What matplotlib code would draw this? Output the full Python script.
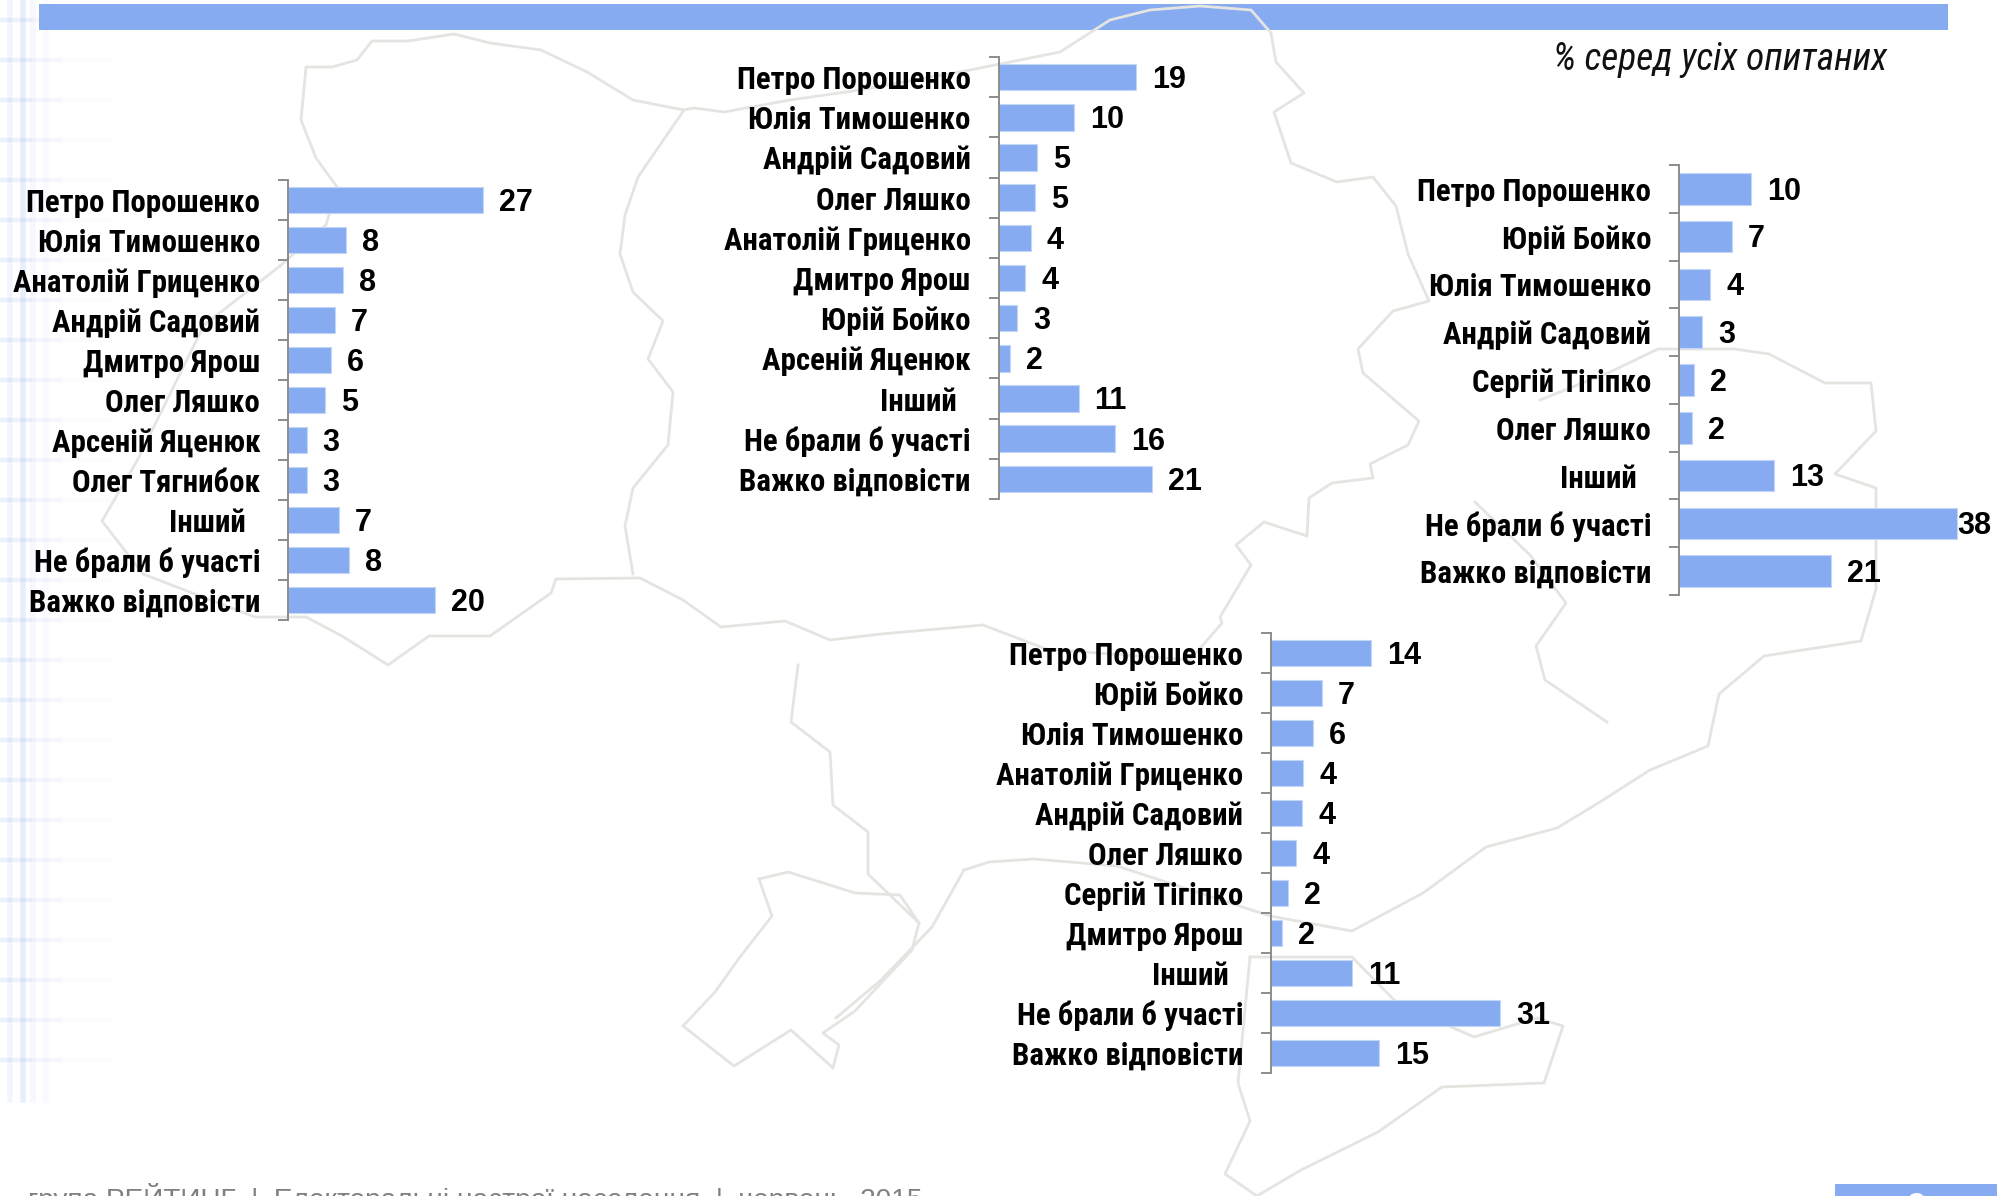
import matplotlib
matplotlib.use("Agg")
import matplotlib.pyplot as plt
import numpy as np

NARROW = ['Roboto Condensed', 'Liberation Sans', 'DejaVu Sans']
plt.rcParams['font.family'] = ['Liberation Sans', 'DejaVu Sans']

W, H = 1997, 1196
BLUE = '#86abf1'
PX_PER_UNIT = 7.22

# west
names1 = ['Петро Порошенко', 'Юлія Тимошенко', 'Анатолій Гриценко', 'Андрій Садовий',
          'Дмитро Ярош', 'Олег Ляшко', 'Арсеній Яценюк', 'Олег Тягнибок',
          'Інший  ', 'Не брали б участі', 'Важко відповісти']
bars1 = [27, 8.1, 7.6, 6.5, 5.9, 5.1, 2.6, 2.6, 7.0, 8.4, 20.4]
vals1 = [27, 8, 8, 7, 6, 5, 3, 3, 7, 8, 20]

# centre
names2 = ['Петро Порошенко', 'Юлія Тимошенко', 'Андрій Садовий', 'Олег Ляшко',
          'Анатолій Гриценко', 'Дмитро Ярош', 'Юрій Бойко', 'Арсеній Яценюк',
          'Інший  ', 'Не брали б участі', 'Важко відповісти']
bars2 = [19, 10.5, 5.4, 5.1, 4.5, 3.7, 2.6, 1.6, 11.1, 16.2, 21.3]
vals2 = [19, 10, 5, 5, 4, 4, 3, 2, 11, 16, 21]

# east
names3 = ['Петро Порошенко', 'Юрій Бойко', 'Юлія Тимошенко', 'Андрій Садовий',
          'Сергій Тігіпко', 'Олег Ляшко', 'Інший  ', 'Не брали б участі', 'Важко відповісти']
bars3 = [10, 7.3, 4.3, 3.2, 2.1, 1.8, 13.2, 38.5, 21]
vals3 = [10, 7, 4, 3, 2, 2, 13, 38, 21]

# south
names4 = ['Петро Порошенко', 'Юрій Бойко', 'Юлія Тимошенко', 'Анатолій Гриценко',
          'Андрій Садовий', 'Олег Ляшко', 'Сергій Тігіпко', 'Дмитро Ярош',
          'Інший  ', 'Не брали б участі', 'Важко відповісти']
bars4 = [13.9, 7, 5.8, 4.5, 4.3, 3.5, 2.4, 1.5, 11.2, 31.7, 15]
vals4 = [14, 7, 6, 4, 4, 4, 2, 2, 11, 31, 15]

# faint map of regions in the background, in image pixels
map_lines = [
    [(280, 266), (326, 225), (337, 187), (316, 158), (301, 120), (306, 67), (332, 67), (357, 60),
     (372, 41), (408, 41), (454, 34), (490, 43), (541, 50), (587, 72), (633, 100), (684, 110),
     (694, 108), (724, 112), (790, 100), (860, 90), (970, 70), (1060, 52), (1110, 20), (1150, 10),
     (1200, 6), (1251, 10), (1271, 33), (1276, 62), (1304, 93), (1274, 112), (1291, 163),
     (1337, 182), (1373, 177), (1396, 206), (1408, 254), (1429, 301), (1393, 311), (1358, 349),
     (1363, 373), (1419, 421), (1408, 445), (1370, 464), (1373, 478), (1332, 483), (1309, 498),
     (1307, 536), (1264, 522), (1236, 545), (1251, 565), (1220, 617), (1222, 623), (1190, 660),
     (1046, 649), (983, 625), (881, 634), (830, 640), (785, 621), (721, 627), (683, 600),
     (640, 578), (556, 579), (551, 593), (490, 636), (429, 636), (388, 665), (342, 636),
     (306, 617), (255, 617), (143, 574), (102, 521), (138, 459), (204, 325), (280, 266)],
    [(684, 110), (638, 177), (625, 215), (620, 254), (633, 292), (663, 321), (648, 359), (673, 392),
     (668, 445), (633, 488), (625, 526), (633, 574)],
    [(798, 665), (791, 722), (830, 752), (833, 805), (868, 832), (868, 874), (919, 923)],
    [(759, 879), (788, 872), (817, 881), (855, 893), (900, 895), (919, 923), (912, 950), (855, 1011),
     (823, 1033), (839, 1045), (833, 1068), (791, 1030), (734, 1066), (683, 1026), (715, 992),
     (740, 957), (772, 916), (759, 879)],
    [(964, 870), (989, 862), (1034, 859), (1117, 866), (1270, 916), (1352, 931), (1423, 893),
     (1486, 847), (1557, 828), (1600, 802), (1650, 770), (1708, 746), (1719, 694), (1764, 656),
     (1861, 641), (1876, 589), (1876, 488), (1835, 474), (1876, 431), (1871, 383), (1825, 383),
     (1769, 354), (1734, 349), (1658, 349), (1610, 372), (1540, 400)],
    [(964, 870), (932, 927), (881, 980), (836, 1018)],
    [(1475, 502), (1530, 555), (1566, 603), (1536, 646), (1545, 680), (1607, 722)],
    [(1250, 957), (1352, 957), (1397, 1003), (1474, 1037), (1537, 1018), (1563, 1026), (1544, 1083),
     (1442, 1087), (1378, 1132), (1301, 1170), (1257, 1196), (1225, 1174), (1250, 1121),
     (1238, 1083), (1250, 957)],
]


def panel(fig, x, top, bottom, names, bars, vals):
    """One horizontal bar block, x/top/bottom are image pixels of its axis line"""
    width = 320
    ax = fig.add_axes([x/W, 1 - bottom/H, width/W, (bottom - top)/H])
    ax.patch.set_alpha(0)
    pos = np.arange(len(names))
    rects = ax.barh(pos, bars, height=0.66, color=BLUE, edgecolor='#c4d6f7', linewidth=0.8)
    ax.set_xlim(0, width/PX_PER_UNIT)
    ax.set_ylim(len(names) - 0.5, -0.5)

    for s in ['top', 'right', 'bottom']:
        ax.spines[s].set_visible(False)
    ax.spines['left'].set_color('#8c8c8c')
    ax.spines['left'].set_linewidth(1.4)
    ax.set_xticks([])

    # ticks sit between the categories, labels in the middle
    ax.set_yticks(np.arange(len(names) + 1) - 0.5)
    ax.set_yticklabels([])
    ax.tick_params(axis='y', which='major', length=7, width=1.4, color='#8c8c8c')
    ax.set_yticks(pos, minor=True)
    ax.set_yticklabels(names, minor=True, fontsize=22.2, fontweight='bold', family=NARROW, color='black')
    ax.tick_params(axis='y', which='minor', length=0, pad=20)

    for rect, v in zip(rects, vals):
        pad = 0.5 if v == 38 else 11.5
        ax.annotate(str(v), (rect.get_width(), rect.get_y() + rect.get_height()/2),
                    xytext=(pad, -2), textcoords='offset points', va='center', ha='left',
                    fontsize=22, fontweight='bold', color='black')
    return ax


fig = plt.figure(figsize=(W/100, H/100), dpi=100, facecolor='white')

bg = fig.add_axes([0, 0, 1, 1])
bg.set_xlim(0, W)
bg.set_ylim(H, 0)
bg.axis('off')

# notebook grid fading out on the left edge
for yy in np.arange(20, 1100, 40):
    for length, a in [(30, 0.08), (60, 0.05), (110, 0.03)]:
        bg.plot([0, length], [yy, yy], color='#8fb0ea', alpha=a, lw=3)
for xx, a in [(10, 0.12), (23, 0.20), (33, 0.08), (46, 0.06)]:
    bg.plot([xx, xx], [0, 1100], color='#8fb0ea', alpha=a, lw=4)

for line in map_lines:
    xs, ys = zip(*line)
    bg.plot(xs, ys, color='#e4e5e0', lw=2, solid_joinstyle='round')

bg.fill_between([39, 1948], 4, 30, color=BLUE, lw=0)
bg.fill_between([1835, W], 1184, H, color=BLUE, lw=0)

bg.text(1553, 60, '% серед усіх опитаних', fontsize=27, style='italic', family=NARROW,
        va='center', ha='left', color='#111111')
bg.text(28, 1183, 'група РЕЙТИНГ  |  Електоральні настрої населення  |  червень  2015', fontsize=20.2,
        va='top', ha='left', color='#808080')
bg.text(1917, 1192, '9', fontsize=26, fontweight='bold', va='top', ha='center', color='white')

panel(fig, 288, 180, 620, names1, bars1, vals1)
panel(fig, 998.5, 57, 499, names2, bars2, vals2)
panel(fig, 1679, 165, 595, names3, bars3, vals3)
panel(fig, 1271, 633, 1073, names4, bars4, vals4)

fig.savefig('out.png', dpi=100)
